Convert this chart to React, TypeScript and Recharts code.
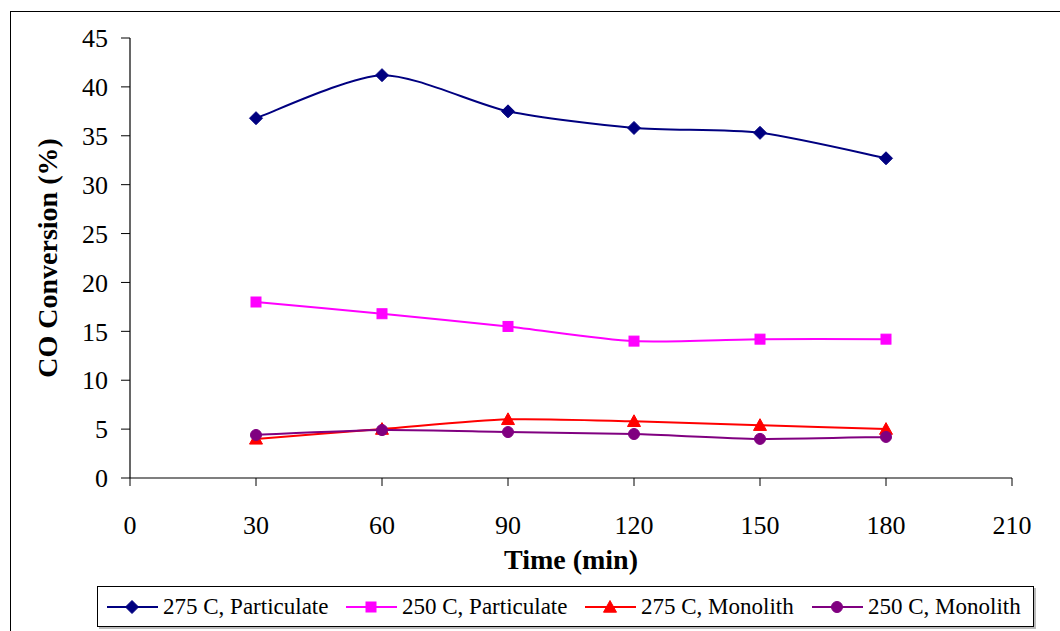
import React from "react";
import { LineChart, Line, XAxis, YAxis, Label } from "recharts";

const times = [30, 60, 90, 120, 150, 180];
const s275P = [36.8, 41.2, 37.5, 35.8, 35.3, 32.7];
const s250P = [18.0, 16.8, 15.5, 14.0, 14.2, 14.2];
const s275M = [4.0, 5.0, 6.0, 5.8, 5.4, 5.0];
const s250M = [4.4, 4.9, 4.7, 4.5, 4.0, 4.2];
const xTicks = [0, 30, 60, 90, 120, 150, 180, 210];
const yTicks = [0, 5, 10, 15, 20, 25, 30, 35, 40, 45];

const seriesNames = ["275 C, Particulate", "250 C, Particulate", "275 C, Monolith", "250 C, Monolith"];
const seriesKeys = ["a", "b", "c", "d"];
const seriesColors = ["#000080", "#FF00FF", "#FF0000", "#800080"];
const seriesShapes = ["diamond", "square", "triangle", "circle"];

const data = times.map((t, i) => ({ t, a: s275P[i], b: s250P[i], c: s275M[i], d: s250M[i] }));

const FONT = "'Liberation Serif', 'Times New Roman', serif";

// Catmull-Rom style smoothing (Excel-like), reduced tension
const K = 1 / 8;
const smoothCurve: any = (context: any) => {
  let pts: number[][] = [];
  return {
    areaStart() {},
    areaEnd() {},
    lineStart() { pts = []; },
    point(x: number, y: number) { pts.push([+x, +y]); },
    lineEnd() {
      const n = pts.length;
      if (n === 0) return;
      context.moveTo(pts[0][0], pts[0][1]);
      for (let i = 0; i < n - 1; i++) {
        const p0 = pts[Math.max(0, i - 1)];
        const p1 = pts[i];
        const p2 = pts[i + 1];
        const p3 = pts[Math.min(n - 1, i + 2)];
        const c1x = p1[0] + (p2[0] - p0[0]) * K;
        const c1y = p1[1] + (p2[1] - p0[1]) * K;
        const c2x = p2[0] - (p3[0] - p1[0]) * K;
        const c2y = p2[1] - (p3[1] - p1[1]) * K;
        context.bezierCurveTo(c1x, c1y, c2x, c2y, p2[0], p2[1]);
      }
    },
  };
};

function Marker({ shape, cx, cy, color }: { shape: string; cx: number; cy: number; color: string }) {
  if (shape === "diamond") {
    const r = 6.5;
    return <polygon points={`${cx},${cy - r} ${cx + r},${cy} ${cx},${cy + r} ${cx - r},${cy}`} fill={color} stroke={color} />;
  }
  if (shape === "square") {
    const r = 5;
    return <rect x={cx - r} y={cy - r} width={2 * r} height={2 * r} fill={color} stroke={color} />;
  }
  if (shape === "triangle") {
    const r = 6.5;
    return <polygon points={`${cx},${cy - r} ${cx + r},${cy + r * 0.8} ${cx - r},${cy + r * 0.8}`} fill={color} stroke={color} />;
  }
  return <circle cx={cx} cy={cy} r={5.5} fill={color} stroke={color} />;
}

const makeDot = (shape: string, color: string) => (props: any) => {
  const { cx, cy, index } = props;
  if (cx == null || cy == null) return <g key={index} />;
  return <Marker key={`${shape}-${index}`} shape={shape} cx={cx} cy={cy} color={color} />;
};

const legendWidths = [239, 239, 227, 226];

export default function App() {
  return (
    <div style={{ position: "absolute", left: 0, top: 0, width: 1060, height: 631, overflow: "hidden", background: "#fff", fontFamily: FONT }}>
      <div style={{ position: "absolute", left: 10, top: 11, width: 1100, height: 700, border: "1px solid #000" }} />
      <div style={{ position: "absolute", left: 0, top: 0 }}>
        <LineChart width={1060} height={631} data={data} margin={{ top: 38, right: 48, left: 0, bottom: 0 }}>
          <XAxis xAxisId="top" orientation="top" dataKey="t" type="number" domain={[0, 210]} height={0} tick={false} tickLine={false} axisLine={{ stroke: "#808080", strokeWidth: 1.5 }} />
          <YAxis yAxisId="right" orientation="right" type="number" domain={[0, 45]} width={0} tick={false} tickLine={false} axisLine={{ stroke: "#808080", strokeWidth: 2 }} />
          <XAxis
            dataKey="t"
            type="number"
            domain={[0, 210]}
            ticks={xTicks}
            interval={0}
            height={153}
            tickSize={8}
            tickMargin={30}
            axisLine={{ stroke: "#000", strokeWidth: 1.2 }}
            tickLine={{ stroke: "#000", strokeWidth: 1 }}
            tick={{ fill: "#000", fontSize: 26, fontFamily: FONT }}
          >
            <Label
              content={(p: any) => {
                const vb = p.viewBox || {};
                return (
                  <text x={vb.x + vb.width / 2} y={vb.y + 91} textAnchor="middle" fontFamily={FONT} fontWeight="bold" fontSize={28} fill="#000">
                    Time (min)
                  </text>
                );
              }}
            />
          </XAxis>
          <YAxis
            type="number"
            domain={[0, 45]}
            ticks={yTicks}
            interval={0}
            width={130}
            tickSize={9}
            tickMargin={13}
            axisLine={{ stroke: "#000", strokeWidth: 1.2 }}
            tickLine={{ stroke: "#000", strokeWidth: 1 }}
            tick={{ fill: "#000", fontSize: 26, fontFamily: FONT }}
          >
            <Label
              content={(p: any) => {
                const vb = p.viewBox || {};
                const cx = 47;
                const cy = vb.y + vb.height / 2;
                return (
                  <text x={cx} y={cy} transform={`rotate(-90 ${cx} ${cy})`} textAnchor="middle" dominantBaseline="central" fontFamily={FONT} fontWeight="bold" fontSize={28} fill="#000">
                    CO Conversion (%)
                  </text>
                );
              }}
            />
          </YAxis>
          {seriesKeys.map((k, i) => (
            <Line
              key={k}
              dataKey={k}
              type={smoothCurve}
              stroke={seriesColors[i]}
              strokeWidth={2}
              dot={makeDot(seriesShapes[i], seriesColors[i])}
              activeDot={false}
              isAnimationActive={false}
            />
          ))}
        </LineChart>
      </div>
      <div
        style={{
          position: "absolute",
          left: 97,
          top: 586,
          width: 937,
          height: 41,
          border: "1px solid #000",
          boxShadow: "2px 2px 0 #bbb",
          display: "flex",
          alignItems: "center",
          paddingLeft: 8,
          boxSizing: "border-box",
        }}
      >
        {seriesNames.map((name, i) => (
          <div key={name} style={{ width: legendWidths[i], display: "flex", alignItems: "center", flexShrink: 0 }}>
            <svg width={54} height={20} style={{ flexShrink: 0 }}>
              <line x1={1} y1={10} x2={52} y2={10} stroke={seriesColors[i]} strokeWidth={2} />
              <Marker shape={seriesShapes[i]} cx={26} cy={10} color={seriesColors[i]} />
            </svg>
            <span style={{ fontSize: 23, fontFamily: FONT, color: "#000", marginLeft: 3, whiteSpace: "nowrap" }}>{name}</span>
          </div>
        ))}
      </div>
    </div>
  );
}
